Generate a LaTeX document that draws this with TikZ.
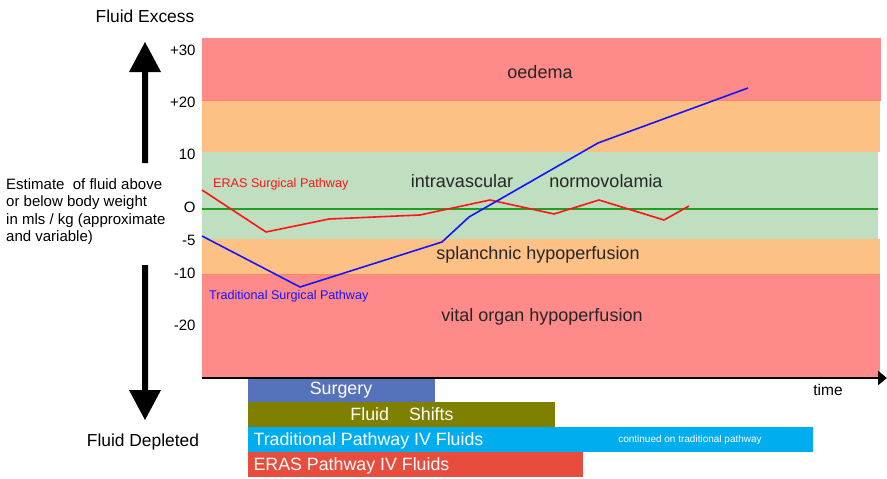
\documentclass[tikz,border=0pt]{standalone}
\usepackage{fontspec}
\setmainfont{Liberation Sans}
\usetikzlibrary{arrows.meta}
\definecolor{bandred}{RGB}{255,138,138}
\definecolor{bandorange}{RGB}{253,193,134}
\definecolor{bandgreen}{RGB}{192,222,192}
\definecolor{zerogreen}{RGB}{30,160,30}
\definecolor{surgblue}{RGB}{86,114,186}
\definecolor{shiftolive}{RGB}{128,128,0}
\definecolor{tradcyan}{RGB}{0,173,239}
\definecolor{erasred}{RGB}{232,76,61}
\definecolor{eraspath}{RGB}{255,20,20}
\definecolor{tradpath}{RGB}{20,20,255}
\begin{document}
\begin{tikzpicture}[x=1pt,y=-1pt,
  tick/.style={anchor=east,font=\fontsize{15}{17}\selectfont},
  zone/.style={font=\fontsize{18}{20}\selectfont,text=black!85},
  barlabel/.style={anchor=west,text=white,font=\fontsize{17.8}{20}\selectfont},
  blockarrow/.style={fill=black},
  pathline/.style={line width=1.6pt,line join=round}]
\useasboundingbox (0,0) rectangle (887,479);

% fluid-state bands
\fill[bandred]    (202,38)  rectangle (881,100);
\fill[bandorange] (202,100) rectangle (880,152);
\fill[bandgreen]  (202,152) rectangle (878,239);
\fill[bandorange] (202,239) rectangle (880,274);
\fill[bandred]    (202,274) rectangle (880,377);
\draw[bandorange!70!red,line width=0.4pt] (202,100) -- (881,100) (202,274) -- (880,274);

% zero line
\coordinate (z0) at (202,209);
\coordinate (z1) at (878,209);
\draw[zerogreen,line width=1.2pt] (z0) -- (z1);

% vertical scale
\node[tick] (t30) at (199,50)  {+30};
\node[tick] (t20) at (199,102) {+20};
\node[tick] (t10) at (199,154) {10};
\node[tick] (t0)  at (199,207) {O};
\node[tick] (tm5) at (199,240) {-5};
\node[tick] (tm10) at (199,273) {-10};
\node[tick] (tm20) at (199,325) {-20};

% time axis
\coordinate (ax0) at (202,378);
\coordinate (ax1) at (887,378);
\draw[line width=2.4pt,-{Triangle[length=9pt,width=14pt]}] (ax0) -- (ax1);
\node[font=\fontsize{15.5}{17}\selectfont] (time) at (828,390) {time};

% big block arrows
\fill[blockarrow] (142,163) -- (142,72) -- (129,72) -- (145,42) -- (161,72) -- (148,72) -- (148,163) -- cycle;
\fill[blockarrow] (142,265) -- (142,390) -- (129,390) -- (145,420) -- (161,390) -- (148,390) -- (148,265) -- cycle;
\node[font=\fontsize{17.4}{19}\selectfont] (excess) at (145,16) {Fluid Excess};
\node[font=\fontsize{17.4}{19}\selectfont] (depleted) at (143,442) {Fluid Depleted};
\node[anchor=north west,align=left,inner sep=0pt,font=\fontsize{15}{17.5}\selectfont] (estimate) at (6,178)
  {Estimate\ \ of fluid above\\or below body weight\\in mls / kg (approximate\\and variable)};

% zone labels
\node[zone] (oedema) at (540,72) {oedema};
\node[zone] (intra) at (462,181.5) {intravascular};
\node[zone] (normo) at (606,181.5) {normovolamia};
\node[zone] (splanch) at (538,254.5) {splanchnic hypoperfusion};
\node[zone] (vital) at (542,316.5) {vital organ hypoperfusion};

% ERAS surgical pathway
\draw[eraspath,pathline] (202,190) -- (266,232) -- (329,219) -- (420,215) -- (490,200)
  -- (554,214) -- (599,200) -- (664,220) -- (689,206);
\node[eraspath,anchor=west,inner sep=0pt,font=\fontsize{12.6}{14}\selectfont] (eraslbl) at (213,184.5) {ERAS Surgical Pathway};

% traditional surgical pathway
\draw[tradpath,pathline] (202,236) -- (300,287) -- (442,242) -- (469,217) -- (598,143) -- (748,88);
\node[tradpath,anchor=west,inner sep=0pt,font=\fontsize{12.6}{14}\selectfont] (tradlbl) at (209,296.5) {Traditional Surgical Pathway};

% timeline bars
\fill[surgblue]   (248,379) rectangle (435,402);
\fill[shiftolive] (248,402) rectangle (555,427);
\fill[tradcyan]   (248,427) rectangle (813,452);
\fill[erasred]    (248,452) rectangle (583,477);
\node[text=white,font=\fontsize{17.8}{20}\selectfont] (surgery) at (341,390.5) {Surgery};
\node[text=white,font=\fontsize{17.8}{20}\selectfont] (shifts) at (402,414.5) {Fluid\hspace{20pt}Shifts};
\node[barlabel] (tradbar) at (250,440.5) {Traditional Pathway IV Fluids};
\node[text=white,font=\fontsize{10}{11}\selectfont] (cont) at (690,440) {continued on traditional pathway};
\node[barlabel] (erasbar) at (250,465.5) {ERAS Pathway IV Fluids};
\end{tikzpicture}
\end{document}
